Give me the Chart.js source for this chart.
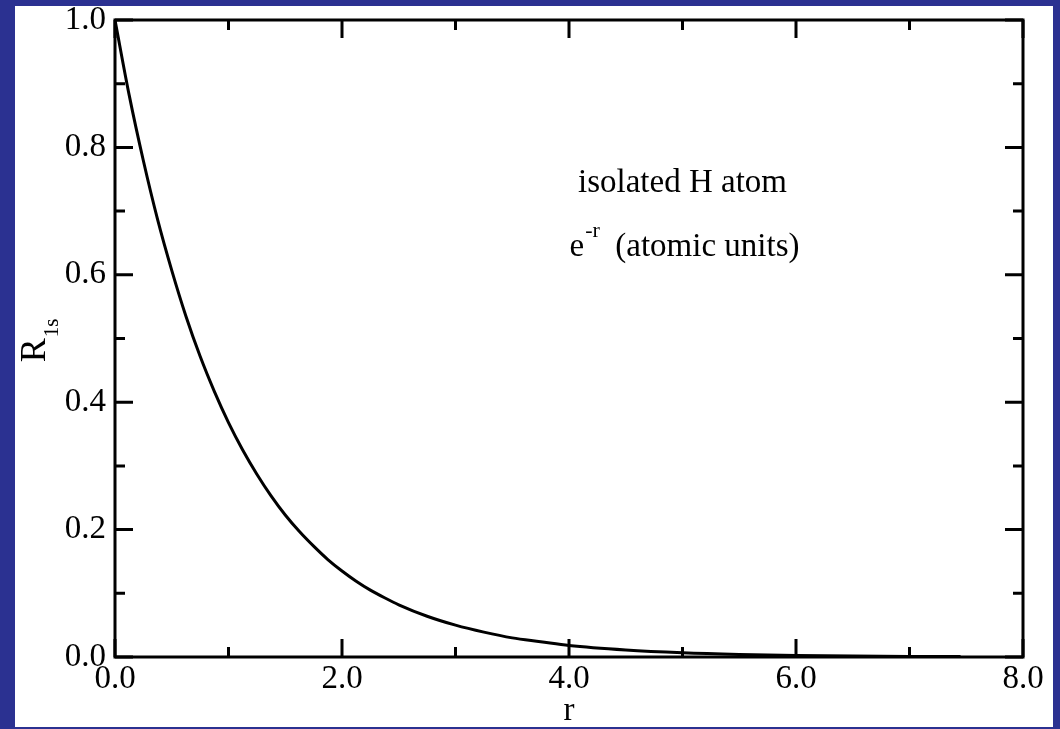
<!DOCTYPE html>
<html>
<head>
<meta charset="utf-8">
<script src="https://cdn.jsdelivr.net/npm/chart.js@4.4.1/dist/chart.umd.min.js"></script>
<style>
  html, body { margin: 0; padding: 0; background: #2b3191; }
  #wrap { position: absolute; left: 0; top: 0; width: 1060px; height: 729px; }
</style>
</head>
<body>
<div id="wrap"><canvas id="r1sChart" width="1060" height="729"></canvas></div>
<script>
// radial distance r (atomic units) and R_1s
const radius = [0, 0.125, 0.25, 0.375, 0.5, 0.625, 0.75, 0.875, 1.0, 1.125, 1.25, 1.375,
                1.5, 1.625, 1.75, 1.875, 2.0, 2.125, 2.25, 2.375, 2.5, 2.75, 3.0,
                3.25, 3.5, 3.75, 4.0, 4.5, 5.0, 5.5, 6.0, 6.5, 7.0, 7.45];
const r1s = [1.0, 0.882, 0.779, 0.687, 0.607, 0.535, 0.472, 0.417, 0.368, 0.325, 0.287, 0.253,
             0.223, 0.197, 0.174, 0.153, 0.135, 0.119, 0.105, 0.093, 0.082, 0.064, 0.050,
             0.039, 0.030, 0.024, 0.018, 0.011, 0.0067, 0.0041, 0.0025, 0.0015, 0.0009, 0.0006];

// axis ranges and major tick steps
const xRange = [0, 8];
const yRange = [0, 1];
const xStep = 2.0;
const yStep = 0.2;

// annotation lines (anchored in data units)
const noteLines = ['isolated H atom', '(atomic units)'];

const serif = "'Liberation Serif', 'DejaVu Serif', serif";

// slide background + white panel
const panelBg = {
  id: 'panelBg',
  beforeDraw(chart) {
    const ctx = chart.ctx;
    ctx.save();
    ctx.fillStyle = '#2b3191';
    ctx.fillRect(0, 0, chart.width, chart.height);
    ctx.fillStyle = '#ffffff';
    ctx.fillRect(15, 6, 1038, 721);
    ctx.restore();
  }
};

// frame with inward ticks on all four sides, y title and annotation
const frameTicks = {
  id: 'frameTicks',
  afterDraw(chart) {
    const ctx = chart.ctx;
    const a = chart.chartArea;
    const xs = chart.scales.x, ys = chart.scales.y;
    ctx.save();
    ctx.strokeStyle = '#000';
    ctx.lineWidth = 3;
    ctx.strokeRect(a.left, a.top, a.right - a.left, a.bottom - a.top);

    const major = 18, minor = 10;
    const xt = xs.ticks.map(t => t.value);
    const yt = ys.ticks.map(t => t.value);
    ctx.beginPath();
    xt.forEach((v, i) => {
      const px = xs.getPixelForValue(v);
      ctx.moveTo(px, a.bottom); ctx.lineTo(px, a.bottom - major);
      ctx.moveTo(px, a.top); ctx.lineTo(px, a.top + major);
      if (i < xt.length - 1) {
        const mx = xs.getPixelForValue((v + xt[i + 1]) / 2);
        ctx.moveTo(mx, a.bottom); ctx.lineTo(mx, a.bottom - minor);
        ctx.moveTo(mx, a.top); ctx.lineTo(mx, a.top + minor);
      }
    });
    yt.forEach((v, i) => {
      const py = ys.getPixelForValue(v);
      ctx.moveTo(a.left, py); ctx.lineTo(a.left + major, py);
      ctx.moveTo(a.right, py); ctx.lineTo(a.right - major, py);
      if (i < yt.length - 1) {
        const my = ys.getPixelForValue((v + yt[i + 1]) / 2);
        ctx.moveTo(a.left, my); ctx.lineTo(a.left + minor, my);
        ctx.moveTo(a.right, my); ctx.lineTo(a.right - minor, my);
      }
    });
    ctx.stroke();

    // y axis title R_1s
    ctx.fillStyle = '#000';
    ctx.translate(45, 341);
    ctx.rotate(-Math.PI / 2);
    ctx.font = '36px ' + serif;
    const rW = ctx.measureText('R').width;
    ctx.font = '21px ' + serif;
    const sW = ctx.measureText('1s').width;
    const x0 = -(rW + sW) / 2;
    ctx.textBaseline = 'alphabetic';
    ctx.textAlign = 'left';
    ctx.font = '36px ' + serif;
    ctx.fillText('R', x0, 0);
    ctx.font = '21px ' + serif;
    ctx.fillText('1s', x0 + rW + 1, 13);
    ctx.setTransform(1, 0, 0, 1, 0, 0);

    // annotation
    const cx = xs.getPixelForValue(5.0);
    ctx.font = '33px ' + serif;
    ctx.textAlign = 'center';
    ctx.fillText(noteLines[0], cx, ys.getPixelForValue(0.73));
    const b2 = ys.getPixelForValue(0.63);
    const eW = ctx.measureText('e').width;
    ctx.font = '22px ' + serif;
    const supW = ctx.measureText('-r').width;
    ctx.font = '33px ' + serif;
    const tW = ctx.measureText('  ' + noteLines[1]).width;
    let lx = cx - (eW + supW + tW) / 2 + 2;
    ctx.textAlign = 'left';
    ctx.fillText('e', lx, b2);
    ctx.font = '22px ' + serif;
    ctx.fillText('-r', lx + eW + 1, b2 - 19);
    ctx.font = '33px ' + serif;
    ctx.fillText('  ' + noteLines[1], lx + eW + supW, b2);
    ctx.restore();
  }
};

const tickFont = { family: serif, size: 33 };

// keep the plot box where it is; tick label overflow is allowed
function noOverflow(scale) {
  scale.paddingTop = 0;
  scale.paddingBottom = 0;
  scale.paddingLeft = 0;
  scale.paddingRight = 0;
}

new Chart(document.getElementById('r1sChart'), {
  type: 'line',
  data: {
    datasets: [{
      data: radius.map((r, i) => ({ x: r, y: r1s[i] })),
      borderColor: '#000',
      borderWidth: 3,
      pointRadius: 0,
      fill: false,
      cubicInterpolationMode: 'monotone'
    }]
  },
  options: {
    responsive: false,
    animation: false,
    devicePixelRatio: 1,
    layout: { padding: { left: 15, top: 20, right: 37, bottom: 0 } },
    plugins: { legend: { display: false }, tooltip: { enabled: false } },
    scales: {
      x: {
        type: 'linear',
        min: xRange[0], max: xRange[1],
        grid: { display: false, drawTicks: false },
        border: { display: false },
        ticks: {
          stepSize: xStep, color: '#000', font: tickFont, padding: 3,
          maxRotation: 0, callback: v => v.toFixed(1)
        },
        title: { display: true, text: 'r', color: '#000', font: tickFont, padding: { top: 0, bottom: -2 } },
        afterFit(scale) { scale.height = 729 - 657; noOverflow(scale); }
      },
      y: {
        type: 'linear',
        min: yRange[0], max: yRange[1],
        grid: { display: false, drawTicks: false },
        border: { display: false },
        ticks: {
          stepSize: yStep, color: '#000', font: tickFont, padding: 9,
          callback: v => v.toFixed(1)
        },
        afterFit(scale) { scale.width = 100; noOverflow(scale); }
      }
    }
  },
  plugins: [panelBg, frameTicks]
});
</script>
</body>
</html>
